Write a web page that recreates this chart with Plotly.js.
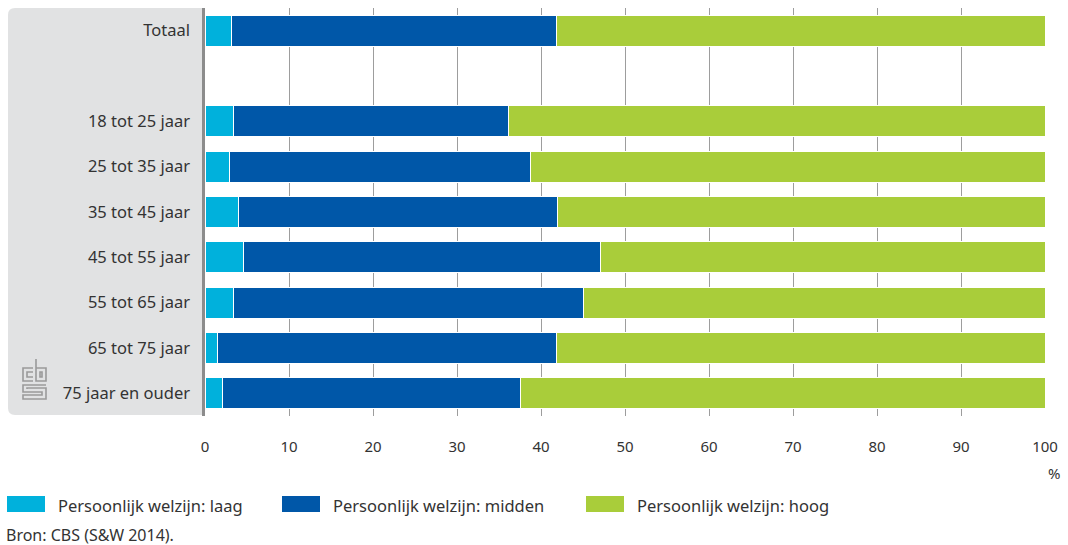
<!DOCTYPE html>
<html>
<head>
<meta charset="utf-8">
<script src="https://cdn.plot.ly/plotly-3.0.1.min.js"></script>
<style>html,body{margin:0;padding:0;background:#fff;}#chart{width:1068px;height:545px;}</style>
</head>
<body>
<div id="chart"></div>
<script>
// Data
const categories = ['Totaal', ' ', '18 tot 25 jaar', '25 tot 35 jaar', '35 tot 45 jaar', '45 tot 55 jaar', '55 tot 65 jaar', '65 tot 75 jaar', '75 jaar en ouder'];
const laag   = [3.2, null, 3.4, 2.9, 4.0, 4.6, 3.4, 1.5, 2.1];
const midden = [38.7, null, 32.7, 35.8, 38.0, 42.5, 41.7, 40.4, 35.4];
const hoog   = [58.1, null, 63.9, 61.3, 58.0, 52.9, 54.9, 58.1, 62.5];
const seriesNames = ['Persoonlijk welzijn: laag', 'Persoonlijk welzijn: midden', 'Persoonlijk welzijn: hoog'];
const xTicks = [0, 10, 20, 30, 40, 50, 60, 70, 80, 90, 100];
const source = 'Bron: CBS (S&W 2014).';

const colors = ['#00b1dc', '#0057a8', '#a9cd3a'];
const FONT = 'Noto Sans, sans-serif';
const TXT = '#333333';

const W = 1068, H = 545;
const M = {l: 205, r: 23, t: 8, b: 129};
const PW = W - M.l - M.r, PH = H - M.t - M.b;
const px = x => (x - M.l) / PW;
const py = y => (H - M.b - y) / PH;

const series = [laag, midden, hoog];
const traces = series.map((vals, i) => ({
  type: 'bar', orientation: 'h',
  x: vals, y: categories, name: seriesNames[i],
  marker: {color: colors[i], line: {color: '#ffffff', width: 1}},
  hoverinfo: 'x+name', showlegend: false
}));

const shapes = [
  // grey label panel
  {type: 'path', xref: 'paper', yref: 'paper', layer: 'below',
   path: `M${px(204)},${py(8)} L${px(15)},${py(8)} Q${px(8)},${py(8)} ${px(8)},${py(15)} L${px(8)},${py(408)} Q${px(8)},${py(415)} ${px(15)},${py(415)} L${px(204)},${py(415)} Z`,
   fillcolor: '#e1e2e3', line: {width: 0}},
  // vertical axis line
  {type: 'line', xref: 'paper', yref: 'paper', layer: 'above',
   x0: px(203.5), x1: px(203.5), y0: py(416), y1: py(8),
   line: {color: '#8c8c8c', width: 3}}
];

// cbs logo (approximate strokes)
const logoPaths = [
  // c
  `M${px(33)},${py(368)} L${px(23)},${py(368)} L${px(23)},${py(381)} L${px(33)},${py(381)}`,
  `M${px(33)},${py(372)} L${px(27)},${py(372)} L${px(27)},${py(377)} L${px(33)},${py(377)}`,
  // b
  `M${px(36)},${py(359)} L${px(36)},${py(381)} L${px(46)},${py(381)} L${px(46)},${py(368)} L${px(36)},${py(368)}`,
  `M${px(40)},${py(372)} L${px(42)},${py(372)} L${px(42)},${py(377)} L${px(40)},${py(377)} Z`,
  // s
  `M${px(46)},${py(385)} L${px(23)},${py(385)} L${px(23)},${py(392)} L${px(42)},${py(392)} L${px(42)},${py(395)} L${px(23)},${py(395)} L${px(23)},${py(399)} L${px(46)},${py(399)} L${px(46)},${py(388)} L${px(27)},${py(388)} L${px(27)},${py(389)}`
];
logoPaths.forEach(p => shapes.push({type: 'path', xref: 'paper', yref: 'paper', layer: 'above', path: p, line: {color: '#9a9a9a', width: 1.6}}));

// manual legend swatches
const legendX = [7, 282, 586];
legendX.forEach((x, i) => shapes.push({type: 'rect', xref: 'paper', yref: 'paper',
  x0: px(x), x1: px(x + 38), y0: py(512), y1: py(496), fillcolor: colors[i], line: {width: 0}}));

const annotations = [
  {text: '%', xref: 'paper', yref: 'paper', x: px(1054), y: py(473), xanchor: 'center', yanchor: 'middle', showarrow: false, font: {family: FONT, size: 15, color: TXT}},
  {text: source, xref: 'paper', yref: 'paper', x: px(5), y: py(535), xanchor: 'left', yanchor: 'middle', borderpad: 0, showarrow: false, font: {family: FONT, size: 16, color: TXT}}
];
legendX.forEach((x, i) => annotations.push({text: seriesNames[i], xref: 'paper', yref: 'paper',
  x: px(x + 49), y: py(505), xanchor: 'left', yanchor: 'middle', showarrow: false, font: {family: FONT, size: 16.5, color: TXT}}));

const layout = {
  width: W, height: H,
  margin: M,
  barmode: 'stack', bargap: 0.31,
  paper_bgcolor: '#ffffff', plot_bgcolor: 'rgba(0,0,0,0)',
  font: {family: FONT, size: 15, color: TXT},
  showlegend: false,
  xaxis: {range: [0, 100], tickvals: xTicks, ticktext: xTicks.map(String), showgrid: true, gridcolor: '#9d9d9d', gridwidth: 1,
          zeroline: false, showline: false, ticks: '', ticklabelstandoff: 20, tickfont: {family: FONT, size: 15, color: TXT}, fixedrange: true},
  yaxis: {type: 'category', categoryorder: 'array', categoryarray: categories, autorange: 'reversed',
          showgrid: false, zeroline: false, showline: false, ticks: '', ticklabelstandoff: 14,
          tickfont: {family: FONT, size: 16.5, color: TXT}, fixedrange: true},
  shapes: shapes,
  annotations: annotations
};

Plotly.newPlot('chart', traces, layout, {displayModeBar: false, staticPlot: true});
</script>
</body>
</html>
